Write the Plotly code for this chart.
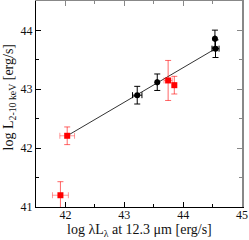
import plotly.graph_objects as go

# Black points (log λLλ 12.3 µm, log L2-10keV)
blk_x = [43.22, 43.56, 44.54, 44.55]
blk_y = [42.90, 43.12, 43.86, 43.69]
blk_xerr = [0.08, 0.0, 0.0, 0.06]
blk_yerr = [0.15, 0.14, 0.145, 0.15]

# Red squares
red_x = [41.915, 42.03, 43.745, 43.85]
red_y = [41.20, 42.21, 43.15, 43.07]
red_xerr = [0.135, 0.125, 0.07, 0.0]
red_yerr = [0.23, 0.15, 0.34, 0.15]

# Correlation line endpoints
fit_x = [42.03, 44.55]
fit_y = [42.21, 43.69]

x_ticks = [42, 43, 44, 45]
y_ticks = [41, 42, 43, 44]
x_range = [41.5, 45]
y_range = [41, 44.5]

x_title = "log λL<sub>λ</sub> at 12.3 μm [erg/s]"
y_title = "log L<sub>2-10 keV</sub> [erg/s]"

FONT = "Liberation Serif"

fig = go.Figure()
fig.add_trace(go.Scatter(x=fit_x, y=fit_y, mode="lines",
                         line=dict(color="#333333", width=1), showlegend=False))
fig.add_trace(go.Scatter(
    x=red_x, y=red_y, mode="markers",
    marker=dict(symbol="square", size=6, color="#ff0000"),
    error_y=dict(type="data", array=red_yerr, color="rgba(255,0,0,0.6)", thickness=1, width=3),
    error_x=dict(type="data", array=red_xerr, color="rgba(255,0,0,0.4)", thickness=1, width=3),
    showlegend=False))
fig.add_trace(go.Scatter(
    x=blk_x, y=blk_y, mode="markers",
    marker=dict(symbol="circle", size=6, color="#000000"),
    error_y=dict(type="data", array=blk_yerr, color="#000000", thickness=1, width=3),
    error_x=dict(type="data", array=blk_xerr, color="#000000", thickness=1, width=3),
    showlegend=False))
fig.add_trace(go.Scatter(x=[None], y=[None], xaxis="x2", yaxis="y2",
                         mode="markers", showlegend=False, hoverinfo="skip"))

axis_common = dict(showgrid=False, zeroline=False, ticks="inside", ticklen=5,
                   tickcolor="#000000", tickfont=dict(family=FONT, size=12, color="#111111"),
                   minor=dict(ticks="inside", ticklen=3, dtick=0.5, tickcolor="#000000"),
                   showline=True, linecolor="#000000", linewidth=1, automargin=False)

mirror_common = dict(showticklabels=False, showgrid=False, zeroline=False,
                     ticks="inside", ticklen=5, tickcolor="#888888",
                     minor=dict(ticks="inside", ticklen=3, dtick=0.5, tickcolor="#888888"),
                     showline=True, linecolor="#888888", linewidth=2, automargin=False)

fig.update_layout(
    width=249, height=240,
    margin=dict(l=36, r=7, t=1, b=33, autoexpand=False),
    plot_bgcolor="white", paper_bgcolor="white",
    xaxis=dict(range=x_range, tickvals=x_ticks, ticktext=[str(v) for v in x_ticks],
               ticklabelstandoff=-3, **axis_common),
    yaxis=dict(range=y_range, tickvals=y_ticks, ticktext=[str(v) for v in y_ticks],
               **axis_common),
    xaxis2=dict(overlaying="x", side="top", range=x_range, tickvals=x_ticks, **mirror_common),
    yaxis2=dict(overlaying="y", side="right", range=y_range, tickvals=y_ticks, **mirror_common),
    annotations=[
        dict(text=x_title, xref="paper", yref="paper", x=0.503, y=-0.062,
             xanchor="center", yanchor="top", showarrow=False,
             font=dict(family=FONT, size=14, color="#111111")),
        dict(text=y_title, xref="paper", yref="paper", x=-0.128, y=0.53,
             xanchor="center", yanchor="middle", textangle=-90, showarrow=False,
             font=dict(family=FONT, size=14, color="#111111")),
    ],
)

fig.write_html("out.html", config={"displayModeBar": False},
               post_script="document.body.style.margin='0';document.body.style.overflow='hidden';")
